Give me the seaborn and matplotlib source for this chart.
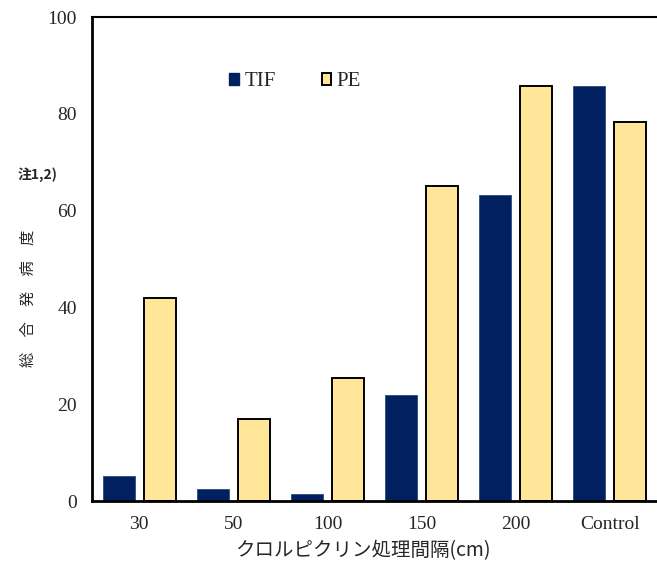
import numpy as np
import pandas as pd
import matplotlib
matplotlib.use("Agg")
import matplotlib.pyplot as plt
import seaborn as sns
from matplotlib.ticker import FixedLocator

# values
intervals = ["30", "50", "100", "150", "200", "Control"]
tif = [5.2, 2.5, 1.4, 21.9, 63.2, 85.7]
pe = [41.9, 16.9, 25.4, 65.1, 85.7, 78.4]
series = ["TIF", "PE"]
colors = {"TIF": "#002060", "PE": "#FFE699"}

df = pd.DataFrame({
    "interval": intervals * 2,
    "value": tif + pe,
    "series": ["TIF"] * len(tif) + ["PE"] * len(pe),
})

sns.set_style("white")
plt.rcParams["font.family"] = ["Liberation Serif", "Noto Sans CJK JP", "DejaVu Sans"]
cjk = ["Noto Sans CJK JP", "DejaVu Sans"]

fig = plt.figure(figsize=(6.57, 5.68), dpi=100)
ax = fig.add_axes([92 / 657, 1 - 501 / 568, 565 / 657, 484 / 568])

sns.barplot(data=df, x="interval", y="value", hue="series", order=intervals,
            hue_order=series, palette=colors, width=0.872, gap=0.22,
            saturation=1, ax=ax, legend=False)

# PE bars have a black outline
for cont, name in zip(ax.containers, series):
    for p in cont:
        if name == "PE":
            p.set_edgecolor("black")
            p.set_linewidth(1.4)
        else:
            p.set_edgecolor("#2a4a80")
            p.set_linewidth(0.6)

ax.set_xlim(-0.5, len(intervals) - 0.5)
ax.set_ylim(0, 100)
ax.set_yticks(np.arange(0, 101, 20))
ax.tick_params(axis="y", direction="in", length=6, width=1.2, labelsize=14, pad=11)
ax.tick_params(axis="x", which="major", length=0, labelsize=14, pad=11)
ax.xaxis.set_minor_locator(FixedLocator(np.arange(0.5, len(intervals) - 0.5, 1)))
ax.tick_params(axis="x", which="minor", direction="in", length=6, width=1.2)

for s in ["left", "bottom"]:
    ax.spines[s].set_linewidth(2)
    ax.spines[s].set_color("black")
ax.spines["top"].set_linewidth(1.5)
ax.spines["top"].set_color("black")
ax.spines["right"].set_visible(False)

ax.set_xlabel("")
ax.set_ylabel("")
fig.text(363 / 657, 1 - 551 / 568, "クロルピクリン処理間隔(cm)", fontsize=14,
         ha="center", va="center", family=cjk)
fig.text(28 / 657, 1 - 298 / 568, "総\u3000合\u3000発\u3000病\u3000度", rotation=90,
         fontsize=11, ha="center", va="center", family=cjk)
fig.text(18 / 657, 1 - 175 / 568, "注1,2)", fontsize=10, fontweight="bold",
         ha="left", va="center", family=cjk)

handles = [plt.Rectangle((0, 0), 1, 1, facecolor=colors["TIF"], edgecolor=colors["TIF"]),
           plt.Rectangle((0, 0), 1, 1, facecolor=colors["PE"], edgecolor="black", linewidth=1.4)]
ax.legend(handles, series, ncol=2, frameon=False, loc="center left",
          bbox_to_anchor=(0.21, 0.866), handlelength=0.47, handleheight=0.47,
          handletextpad=0.25, columnspacing=2.2, fontsize=15)

fig.savefig("out.png", dpi=100)
